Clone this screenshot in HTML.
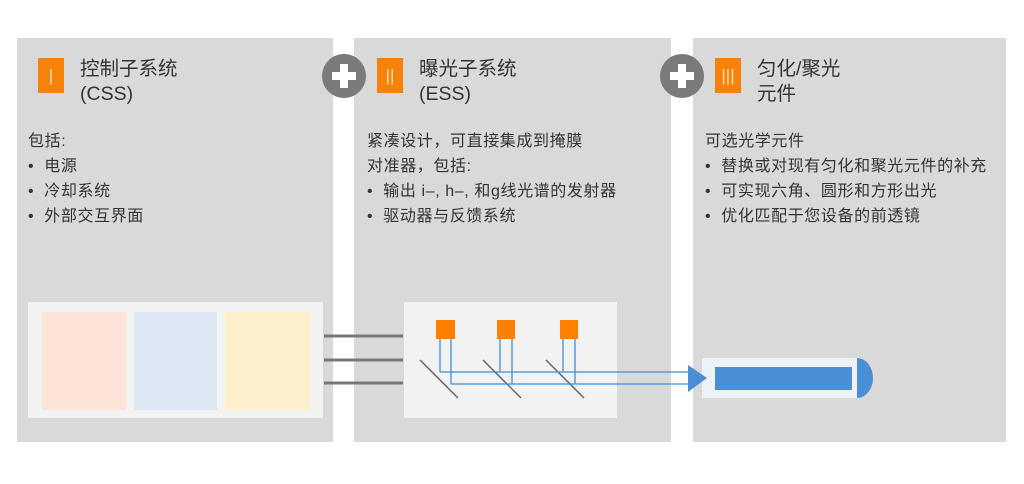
<!DOCTYPE html>
<html><head><meta charset="utf-8"><style>
body{margin:0;width:1024px;height:484px;background:#fff;position:relative;overflow:hidden;font-family:"Liberation Sans","Noto Sans CJK SC",sans-serif;color:#333}
.p{position:absolute;top:38px;height:404px;background:#d9d9d9}
.a{position:absolute}
.badge{position:absolute;top:58px;width:26px;height:35px;background:#f5820a;color:#ffe0b0;font-size:17px;text-align:center;line-height:35px}
.t{position:absolute;top:57px;font-size:19.5px;line-height:25px;color:#333}
.b{position:absolute;top:129px;font-size:16px;letter-spacing:0.6px;line-height:25px;color:#333}
.plus{position:absolute;top:54px;width:44px;height:44px;border-radius:50%;background:#7a7a7a}
.plus:before{content:"";position:absolute;left:10px;top:18px;width:24px;height:8px;background:#fff}
.plus:after{content:"";position:absolute;left:18px;top:10px;width:8px;height:24px;background:#fff}
</style></head><body>
<div class="p" style="left:17px;width:316px"></div>
<div class="p" style="left:354px;width:317px"></div>
<div class="p" style="left:693px;width:313px"></div>
<div class="plus" style="left:322px"></div>
<div class="plus" style="left:660px"></div>
<div class="badge" style="left:38px">|</div>
<div class="badge" style="left:377px">||</div>
<div class="badge" style="left:715px">|||</div>
<div class="t" style="left:80px">控制子系统<br>(CSS)</div>
<div class="t" style="left:419px">曝光子系统<br>(ESS)</div>
<div class="t" style="left:757px">匀化/聚光<br>元件</div>
<div class="b" style="left:28px">包括:<br>•&nbsp; 电源<br>•&nbsp; 冷却系统<br>•&nbsp; 外部交互界面</div>
<div class="b" style="left:367px">紧凑设计，可直接集成到掩膜<br>对准器，包括:<br>•&nbsp; 输出 i–, h–, 和g线光谱的发射器<br>•&nbsp; 驱动器与反馈系统</div>
<div class="b" style="left:705px">可选光学元件<br>•&nbsp; 替换或对现有匀化和聚光元件的补充<br>•&nbsp; 可实现六角、圆形和方形出光<br>•&nbsp; 优化匹配于您设备的前透镜</div>
<div class="a" style="left:28px;top:302px;width:295px;height:116px;background:#f2f2f2"></div>
<div class="a" style="left:42px;top:312px;width:84px;height:98px;background:#fde3d8"></div>
<div class="a" style="left:134px;top:312px;width:83px;height:98px;background:#dde8f4"></div>
<div class="a" style="left:225px;top:312px;width:85px;height:98px;background:#fdf0cd"></div>
<div class="a" style="left:404px;top:302px;width:213px;height:116px;background:#f2f2f2"></div>
<div class="a" style="left:702px;top:358px;width:155px;height:40px;background:#eef2f6"></div>
<div class="a" style="left:715px;top:367px;width:137px;height:23px;background:#4a8fd6"></div>
<svg class="a" style="left:0;top:0" width="1024" height="484">
<g stroke="#777" stroke-width="3"><line x1="324" y1="336" x2="403" y2="336"/><line x1="324" y1="360" x2="403" y2="360"/><line x1="324" y1="383" x2="403" y2="383"/></g>
<g stroke="#666" stroke-width="1.5"><line x1="420" y1="360" x2="458" y2="398"/><line x1="483" y1="360" x2="521" y2="398"/><line x1="546" y1="360" x2="584" y2="398"/></g>
<g fill="#ff8000"><rect x="436" y="320" width="19" height="19"/><rect x="497" y="320" width="18" height="19"/><rect x="560" y="320" width="18" height="19"/></g>
<g stroke="#3d8fd6" stroke-width="1.3" fill="none">
<line x1="440" y1="339" x2="440" y2="372"/><line x1="451" y1="339" x2="451" y2="384"/>
<line x1="500" y1="339" x2="500" y2="372"/><line x1="512" y1="339" x2="512" y2="384"/>
<line x1="563" y1="339" x2="563" y2="372"/><line x1="575" y1="339" x2="575" y2="384"/>
<line x1="440" y1="372" x2="690" y2="372"/><line x1="451" y1="384" x2="690" y2="384"/></g>
<polygon points="688,365 707,378 688,392" fill="#4a8fd6"/>
<path d="M857,358 A16,20 0 0 1 857,398 Z" fill="#4a8fd6"/>
</svg>
</body></html>
